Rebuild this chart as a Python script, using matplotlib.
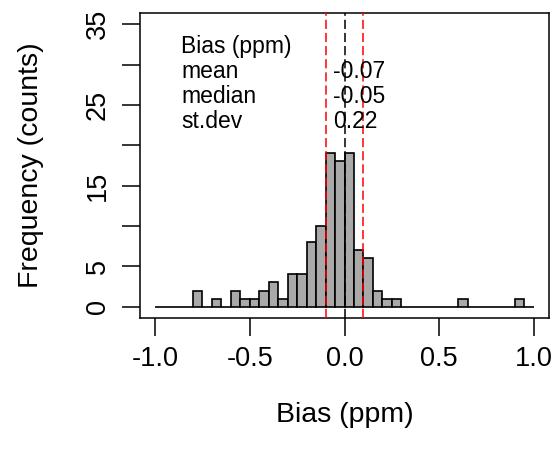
import numpy as np
import matplotlib
matplotlib.use("Agg")
import matplotlib.pyplot as plt

plt.rcParams['font.family'] = ['Liberation Sans', 'DejaVu Sans']

# histogram of bias, bins of 0.05 ppm from -1 to 1
bin_width = 0.05
bin_start = -1.0
counts = [0, 0, 0, 0, 2, 0, 1, 0, 2, 1,
          1, 2, 3, 1, 4, 4, 8, 10, 19, 18,
          19, 7, 6, 2, 1, 1, 0, 0, 0, 0,
          0, 0, 1, 0, 0, 0, 0, 0, 1, 0]
bin_lefts = bin_start + bin_width * np.arange(len(counts))

stat_names = ["mean", "median", "st.dev"]
stat_values = ["-0.07", "-0.05", "0.22"]
red_lines = [-0.1, 0.1]
black_lines = [0.0]

x_ticks = [-1.0, -0.5, 0.0, 0.5, 1.0]
x_ticklabels = ["-1.0", "-0.5", "0.0", "0.5", "1.0"]
y_ticks = [0, 5, 10, 15, 20, 25, 30, 35]
y_ticklabels = ["0", "5", "", "15", "", "25", "", "35"]

W, H = 553, 459
fig = plt.figure(figsize=(W / 100, H / 100), dpi=100)
ax = fig.add_axes([140 / W, 1 - 318 / H, 409 / W, 305 / H])

ax.bar(bin_lefts, counts, width=bin_width, align='edge',
       color='#a9a9a9', edgecolor='black', linewidth=1.2, zorder=2)

for xv in red_lines:
    ax.axvline(xv, color='red', linewidth=1.1, dashes=(6, 2.6), zorder=3)
for xv in black_lines:
    ax.axvline(xv, color='black', linewidth=1.1, dashes=(6, 2.6), zorder=3)

ax.set_xlim(-1.08, 1.08)
ax.set_ylim(-1.4, 36.4)

ax.set_xticks(x_ticks)
ax.set_xticklabels(x_ticklabels)
ax.set_yticks(y_ticks)
ax.set_yticklabels(y_ticklabels, rotation=90, va='center')
ax.tick_params(axis='both', length=13, width=1.1, labelsize=19.5, direction='out')
ax.tick_params(axis='x', pad=7)
ax.tick_params(axis='y', pad=8)
for sp in ax.spines.values():
    sp.set_linewidth(1.1)

# text block with summary stats
ax.text(-0.862, 32.2, "Bias (ppm)", fontsize=16.5, ha='left', va='center')
ys = [29.1, 26.0, 22.9]
for name, val, yv in zip(stat_names, stat_values, ys):
    ax.text(-0.862, yv, name, fontsize=16.5, ha='left', va='center')
    ax.text(-0.06, yv, val, fontsize=16.5, ha='left', va='center')

fig.text(344.5 / W, 1 - 415 / H, "Bias (ppm)", fontsize=20.5, ha='center', va='center')
fig.text(31 / W, 1 - 165 / H, "Frequency (counts)", fontsize=20.5,
         ha='center', va='center', rotation=90)

fig.savefig("out.png", dpi=100)
